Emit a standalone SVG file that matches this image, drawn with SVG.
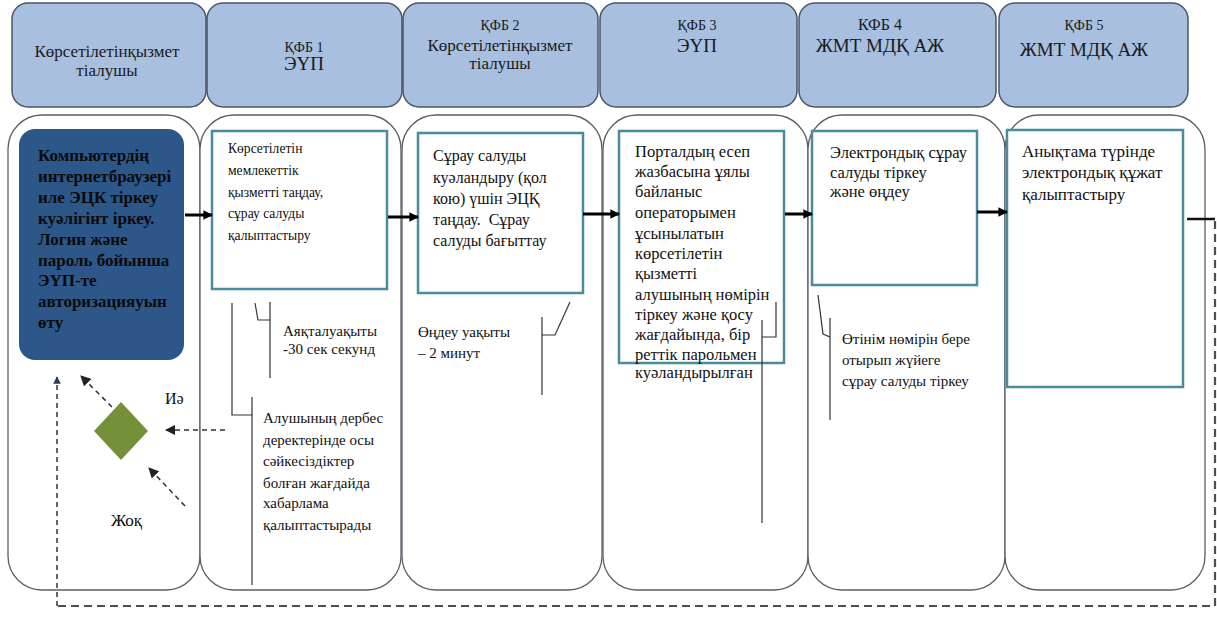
<svg xmlns="http://www.w3.org/2000/svg" width="1217" height="623" viewBox="0 0 1217 623">
<defs>
<style>
.hdr{fill:#a8bfdf;stroke:#4a5566;stroke-width:1.5}
.col{fill:#fff;stroke:#5a5f66;stroke-width:1.3}
.box{fill:#fff;stroke:#4a8c9c;stroke-width:2.5}
.t{font-family:"Liberation Serif","Times New Roman",serif;font-size:15px;fill:#111}
.h{font-family:"Liberation Serif","Times New Roman",serif;font-size:17px;fill:#1a1a1a;text-anchor:middle}
.hs{font-size:14px}
.hb{font-size:19px}
.b{font-weight:bold;fill:#0a0a0a;font-size:17px}
.s13{font-size:13.6px}
.s16{font-size:16px}
.s165{font-size:16.5px}
.s17{font-size:17px}
.thin{fill:none;stroke:#333;stroke-width:1.2}
.arr{fill:none;stroke:#000;stroke-width:3}
.dash{fill:none;stroke:#333;stroke-width:1.5;stroke-dasharray:5,4}
.dashb{fill:none;stroke:#4a4f55;stroke-width:2.2;stroke-dasharray:8,5}
</style>
<marker id="ah" viewBox="0 0 10 10" refX="9" refY="5" markerWidth="3.2" markerHeight="3.2" orient="auto" markerUnits="strokeWidth"><path d="M0,0 L10,5 L0,10 Z" fill="#000"/></marker>
<marker id="dh" viewBox="0 0 10 10" refX="9" refY="5" markerWidth="7" markerHeight="7" orient="auto" markerUnits="strokeWidth"><path d="M0,0 L10,5 L0,10 Z" fill="#222"/></marker>
<marker id="dh2" viewBox="0 0 10 10" refX="9" refY="5" markerWidth="5" markerHeight="5" orient="auto" markerUnits="strokeWidth"><path d="M0,0 L10,5 L0,10 Z" fill="#2a3a55"/></marker>
</defs>
<rect width="1217" height="623" fill="#fff"/>

<g id="headers">
<g id="h1"><rect class="hdr" x="12" y="3" width="194" height="104" rx="16"/>
<text class="h" x="107" y="57">Көрсетілетінқызмет</text><text class="h" x="107" y="76">тіалушы</text></g>
<g id="h2"><rect class="hdr" x="207" y="3" width="195" height="104" rx="16"/>
<text class="h hs" x="304" y="52">ҚФБ 1</text><text class="h hb" x="304" y="70">ЭҮП</text></g>
<g id="h3"><rect class="hdr" x="403" y="3" width="195" height="104" rx="16"/>
<text class="h hs" x="500" y="30">ҚФБ 2</text><text class="h" x="500" y="51">Көрсетілетінқызмет</text><text class="h" x="500" y="69">тіалушы</text></g>
<g id="h4"><rect class="hdr" x="600" y="3" width="197" height="104" rx="16"/>
<text class="h hs" x="697" y="30">ҚФБ 3</text><text class="h hb" x="697" y="52">ЭҮП</text></g>
<g id="h5"><rect class="hdr" x="799" y="3" width="197" height="104" rx="16"/>
<text class="h" x="880" y="30" style="font-size:16px">КФБ 4</text><text class="h hb" x="880" y="52">ЖМТ МДҚ АЖ</text></g>
<g id="h6"><rect class="hdr" x="999" y="3" width="189" height="104" rx="16"/>
<text class="h hs" x="1084" y="30">ҚФБ 5</text><text class="h hb" x="1084" y="56">ЖМТ МДҚ АЖ</text></g>
</g>

<g id="lanes">
<rect class="col" x="8" y="115" width="192" height="475" rx="34"/>
<rect class="col" x="200" y="115" width="201" height="475" rx="34"/>
<rect class="col" x="402" y="115" width="200" height="475" rx="34"/>
<rect class="col" x="603" y="115" width="205" height="475" rx="34"/>
<rect class="col" x="808" y="115" width="197" height="475" rx="34"/>
<rect class="col" x="1005" y="115" width="200" height="475" rx="34"/>
</g>

<g id="n1">
<rect x="19" y="129" width="165" height="231" rx="16" fill="#2c5788"/>
<text class="t b" x="38" y="161">Компьютердің</text>
<text class="t b" x="38" y="182">интернетбраузері</text>
<text class="t b" x="38" y="203">иле ЭЦК тіркеу</text>
<text class="t b" x="38" y="224">куәлігінт іркеу.</text>
<text class="t b" x="38" y="245">Логин және</text>
<text class="t b" x="38" y="266">пароль бойынша</text>
<text class="t b" x="38" y="286">ЭҮП-те</text>
<text class="t b" x="38" y="307">авторизацияуын</text>
<text class="t b" x="38" y="328">өту</text>
</g>

<g id="n2">
<rect class="box" x="212" y="131" width="175" height="158"/>
<text class="t s13" x="228" y="153">Көрсетілетін</text>
<text class="t s13" x="228" y="175">мемлекеттік</text>
<text class="t s13" x="228" y="197">қызметті таңдау,</text>
<text class="t s13" x="228" y="218">сұрау салуды</text>
<text class="t s13" x="228" y="240">қалыптастыру</text>
</g>

<g id="n3">
<rect class="box" x="418" y="133" width="165" height="160"/>
<text class="t s16" x="433" y="161">Сұрау салуды</text>
<text class="t s16" x="433" y="183">куәландыру (қол</text>
<text class="t s16" x="433" y="204">кою) үшін ЭЦҚ</text>
<text class="t s16" x="433" y="225" xml:space="preserve">таңдау.  Сұрау</text>
<text class="t s16" x="433" y="246">салуды бағыттау</text>
</g>

<g id="n4">
<rect class="box" x="619" y="131" width="165" height="232"/>
<text class="t s165" x="635" y="157">Порталдың есеп</text>
<text class="t s165" x="635" y="177">жазбасына ұялы</text>
<text class="t s165" x="635" y="197">байланыс</text>
<text class="t s165" x="635" y="218">операторымен</text>
<text class="t s165" x="635" y="239">ұсынылатын</text>
<text class="t s165" x="635" y="259">көрсетілетін</text>
<text class="t s165" x="635" y="279">қызметті</text>
<text class="t s165" x="635" y="300">алушының нөмірін</text>
<text class="t s165" x="635" y="320">тіркеу және қосу</text>
<text class="t s165" x="635" y="340">жағдайында, бір</text>
<text class="t s165" x="635" y="360">реттік парольмен</text>
<text class="t s165" x="635" y="378">куәландырылған</text>
</g>

<g id="n5">
<rect class="box" x="812" y="131" width="165" height="154"/>
<text class="t s165" x="830" y="158">Электрондық сұрау</text>
<text class="t s165" x="830" y="178">салуды тіркеу</text>
<text class="t s165" x="830" y="197">және өңдеу</text>
</g>

<g id="n6">
<rect class="box" x="1007" y="130" width="176" height="257"/>
<text class="t s17" x="1022" y="157">Анықтама түрінде</text>
<text class="t s17" x="1022" y="178">электрондық құжат</text>
<text class="t s17" x="1022" y="200">қалыптастыру</text>
</g>

<g id="decision">
<polygon points="121,402 148,431 121,460 94,431" fill="#74913a"/>
</g>

<g id="labels">
<text class="t s16" x="165" y="404">Иә</text>
<text class="t s17" x="111" y="526">Жоқ</text>
<text class="t" x="283" y="336">Аяқталуақыты</text>
<text class="t" x="283" y="354">-30 сек секунд</text>
<text class="t" x="263" y="423">Алушының дербес</text>
<text class="t" x="263" y="445">деректерінде осы</text>
<text class="t" x="263" y="466">сәйкесіздіктер</text>
<text class="t" x="263" y="488">болған жағдайда</text>
<text class="t" x="263" y="508">хабарлама</text>
<text class="t" x="263" y="530">қалыптастырады</text>
<text class="t" x="418" y="337">Өңдеу уақыты</text>
<text class="t" x="418" y="358">– 2 минут</text>
<text class="t" x="842" y="344">Өтінім нөмірін бере</text>
<text class="t" x="842" y="365">отырып жүйеге</text>
<text class="t" x="842" y="386">сұрау салуды тіркеу</text>
</g>

<g id="connectors">
<path class="arr" d="M185,215 H212" marker-end="url(#ah)"/>
<path class="arr" d="M388,217 H418" marker-end="url(#ah)"/>
<path class="arr" d="M583,214 H619" marker-end="url(#ah)"/>
<path class="arr" d="M785,214 H812" marker-end="url(#ah)"/>
<path class="arr" d="M977,212 H1007" marker-end="url(#ah)"/>
<path d="M1187,219 H1215" stroke="#111" stroke-width="2.5" fill="none"/>
<path class="dashb" d="M1215,221 V606 H57"/>
<path class="dash" d="M57,606 V377" marker-end="url(#dh2)"/>
<path class="dash" d="M225,430 H166" marker-end="url(#dh)"/>
<path class="dash" d="M112,407 L81,376" marker-end="url(#dh)"/>
<path class="dash" d="M185,506 L149,468" marker-end="url(#dh)"/>
<path class="thin" d="M255,303 L258,320 H270 M270,302 V378"/>
<path class="thin" d="M232,303 V415 H252 M252,397 V585"/>
<path class="thin" d="M570,302 L555,335 H542 M542,317 V395"/>
<path class="thin" d="M776,302 V337 H762 M762,320 V523"/>
<path class="thin" d="M818,295 L823,334 L830,337 M830,318 V420"/>
</g>
</svg>
